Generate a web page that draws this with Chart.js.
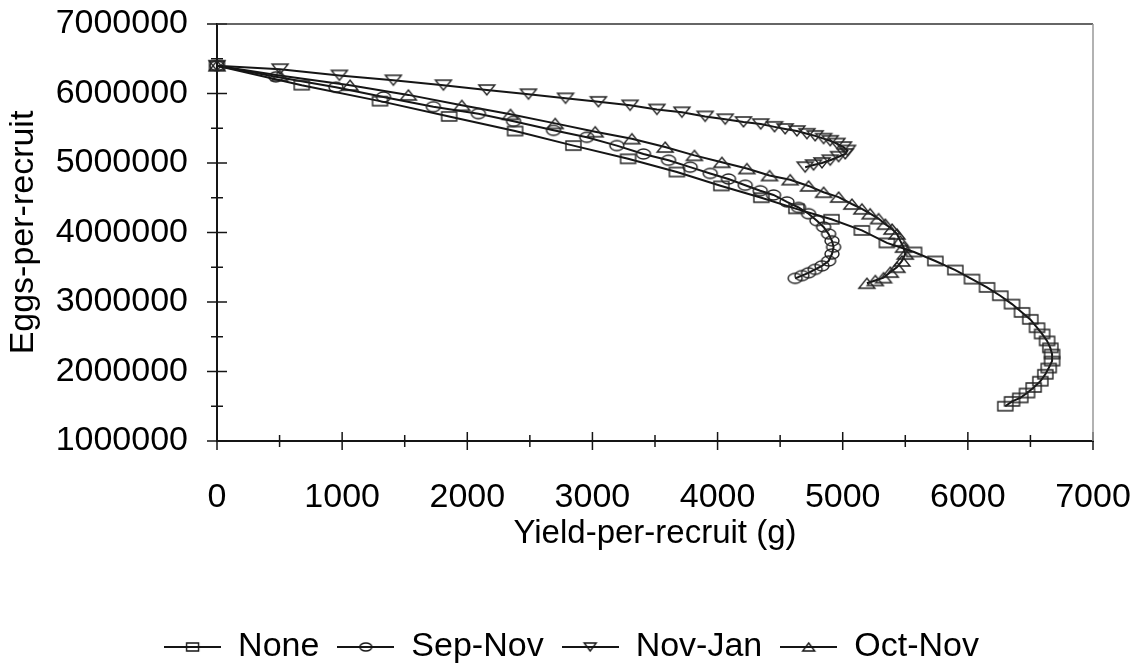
<!DOCTYPE html>
<html>
<head>
<meta charset="utf-8">
<script src="https://cdn.jsdelivr.net/npm/chart.js@4.4.1/dist/chart.umd.min.js"></script>
<style>
  html, body { margin: 0; padding: 0; background: #fff; }
  #wrap { width: 1138px; height: 668px; }
</style>
</head>
<body>
<div id="wrap"><canvas id="eprChart"></canvas></div>
<script>
// yield-per-recruit (g) and eggs-per-recruit, one pair per closed season
const noneYield = [0, 677, 1303, 1855, 2382, 2848, 3285, 3675, 4030, 4350, 4630, 4910, 5153, 5353, 5570, 5740, 5900, 6033, 6153, 6259,
  6353, 6433, 6499, 6553, 6593, 6633, 6659, 6673, 6673, 6646, 6619, 6579, 6526, 6473, 6419, 6353, 6299];
const noneEggs = [6400000, 6120000, 5890000, 5670000, 5460000, 5250000, 5060000, 4870000, 4670000, 4500000,
  4340000, 4190000, 4030000, 3850000, 3720000, 3590000, 3460000, 3330000, 3210000, 3090000,
  2970000, 2850000, 2750000, 2630000, 2540000, 2440000, 2340000, 2250000, 2150000, 2050000,
  1960000, 1860000, 1770000, 1690000, 1620000, 1570000, 1500000];

const sepNovYield = [0, 470, 950, 1330, 1729, 2089, 2370, 2689, 2955, 3195, 3408, 3608, 3781, 3941, 4087, 4221, 4341, 4447, 4554, 4647,
  4727, 4794, 4847, 4887, 4914, 4927, 4914, 4887, 4834, 4780, 4727, 4674, 4620];
const sepNovEggs = [6400000, 6240000, 6090000, 5950000, 5810000, 5710000, 5600000, 5470000, 5370000, 5250000,
  5130000, 5040000, 4940000, 4850000, 4770000, 4680000, 4600000, 4540000, 4440000, 4360000,
  4270000, 4170000, 4080000, 3980000, 3880000, 3790000, 3690000, 3590000, 3520000, 3470000,
  3420000, 3380000, 3340000];

const novJanYield = [0, 504, 978, 1409, 1809, 2156, 2489, 2785, 3048, 3301, 3515, 3715, 3901, 4061, 4207, 4345, 4455, 4540, 4634, 4714,
  4780, 4847, 4900, 4954, 5006, 5038, 5020, 4967, 4900, 4834, 4767, 4700];
const novJanEggs = [6400000, 6350000, 6260000, 6190000, 6120000, 6050000, 5990000, 5930000, 5880000, 5830000,
  5770000, 5730000, 5670000, 5630000, 5590000, 5560000, 5520000, 5490000, 5460000, 5420000,
  5390000, 5350000, 5320000, 5280000, 5230000, 5180000, 5130000, 5090000, 5040000, 5000000,
  4970000, 4940000];

const octNovYield = [0, 500, 1063, 1529, 1956, 2345, 2702, 3022, 3315, 3581, 3815, 4034, 4234, 4415, 4580, 4727, 4847, 4967, 5073, 5153,
  5219, 5286, 5340, 5394, 5433, 5460, 5486, 5500, 5473, 5433, 5380, 5326, 5260, 5193];
const octNovEggs = [6400000, 6260000, 6120000, 5980000, 5830000, 5700000, 5570000, 5450000, 5350000, 5230000,
  5110000, 5010000, 4920000, 4820000, 4760000, 4670000, 4580000, 4510000, 4410000, 4340000,
  4270000, 4200000, 4120000, 4050000, 3980000, 3880000, 3790000, 3690000, 3590000, 3500000,
  3430000, 3350000, 3310000, 3270000];

const seasonLabels = ['None', 'Sep-Nov', 'Nov-Jan', 'Oct-Nov'];
const yTicks = [1000000, 2000000, 3000000, 4000000, 5000000, 6000000, 7000000];
const xTicks = [0, 1000, 2000, 3000, 4000, 5000, 6000, 7000];

const FONT = "'Liberation Sans', Arial, sans-serif";
const INK = '#151515';

// hollow marker shapes, drawn once into small canvases
function drawShape(g, kind, cx, cy, w, h) {
  g.beginPath();
  if (kind === 'rect') {
    g.rect(cx - w / 2, cy - h / 2, w, h);
  } else if (kind === 'ellipse') {
    g.ellipse(cx, cy, w / 2, h / 2, 0, 0, Math.PI * 2);
  } else if (kind === 'down') {
    g.moveTo(cx - w / 2, cy - h / 2);
    g.lineTo(cx + w / 2, cy - h / 2);
    g.lineTo(cx, cy + h / 2);
    g.closePath();
  } else {
    g.moveTo(cx, cy - h / 2);
    g.lineTo(cx + w / 2, cy + h / 2);
    g.lineTo(cx - w / 2, cy + h / 2);
    g.closePath();
  }
  g.stroke();
}

function markerIcon(kind, w, h) {
  const c = document.createElement('canvas');
  c.width = w + 4; c.height = h + 4;
  const g = c.getContext('2d');
  g.strokeStyle = '#222';
  g.lineWidth = 1.4;
  drawShape(g, kind, c.width / 2, c.height / 2, w, h);
  return c;
}

function legendIcon(kind) {
  const c = document.createElement('canvas');
  c.width = 57; c.height = 14;
  const g = c.getContext('2d');
  g.strokeStyle = INK;
  g.lineWidth = 2;
  g.beginPath(); g.moveTo(0, 7); g.lineTo(57, 7); g.stroke();
  g.lineWidth = 1.4;
  drawShape(g, kind, 28.5, 7, 12, 8);
  return c;
}

const kinds = ['rect', 'ellipse', 'down', 'up'];
const markers = [markerIcon('rect', 15, 9), markerIcon('ellipse', 14, 10), markerIcon('down', 16, 10), markerIcon('up', 16, 10)];
const legendIcons = kinds.map(legendIcon);

const series = [
  [noneYield, noneEggs],
  [sepNovYield, sepNovEggs],
  [novJanYield, novJanEggs],
  [octNovYield, octNovEggs]
];

// crossing tick marks (major + minor) and the light frame on top/right
const axisMarks = {
  id: 'axisMarks',
  afterDraw(chart) {
    const {ctx, chartArea: a, scales: {x, y}} = chart;
    ctx.save();
    ctx.strokeStyle = INK;
    ctx.lineWidth = 1.5;
    for (let v = x.min; v <= x.max; v += 500) {
      const px = x.getPixelForValue(v);
      const len = v % 1000 === 0 ? 9 : 6;
      ctx.beginPath(); ctx.moveTo(px, a.bottom - len); ctx.lineTo(px, a.bottom + len); ctx.stroke();
    }
    for (let v = y.min; v <= y.max; v += 500000) {
      const py = y.getPixelForValue(v);
      const len = v % 1000000 === 0 ? 10 : 6;
      ctx.beginPath(); ctx.moveTo(a.left - len, py); ctx.lineTo(a.left + len, py); ctx.stroke();
    }
    ctx.strokeStyle = '#333';
    ctx.beginPath(); ctx.moveTo(a.left, a.top); ctx.lineTo(a.right, a.top); ctx.stroke();
    ctx.strokeStyle = '#999';
    ctx.beginPath(); ctx.moveTo(a.right, a.top); ctx.lineTo(a.right, a.bottom); ctx.stroke();
    ctx.restore();
  }
};

new Chart(document.getElementById('eprChart'), {
  type: 'scatter',
  data: {
    datasets: series.map(([xs, ys], i) => ({
      label: seasonLabels[i],
      data: xs.map((v, j) => ({x: v, y: ys[j]})),
      showLine: true,
      borderColor: INK,
      borderWidth: 2,
      backgroundColor: 'transparent',
      pointStyle: markers[i],
      pointRadius: 5,
      tension: 0,
      clip: false
    }))
  },
  options: {
    responsive: true,
    maintainAspectRatio: false,
    animation: false,
    // left padding nudges the centred legend to the right; y axis width compensates
    layout: { padding: { top: 24, right: 45, bottom: -6, left: 50 } },
    scales: {
      x: {
        type: 'linear',
        min: xTicks[0],
        max: xTicks[xTicks.length - 1],
        afterBuildTicks: scale => { scale.ticks = xTicks.map(v => ({value: v})); },
        afterFit: scale => {
          scale.height = 171;
          scale.paddingLeft = 0;
          scale.paddingRight = 0;
        },
        ticks: { color: '#000', font: { family: FONT, size: 34 }, padding: 36, maxRotation: 0, autoSkip: false, callback: v => String(v) },
        grid: { display: true, drawOnChartArea: false, drawTicks: false },
        border: { color: INK, width: 2 },
        title: { display: true, text: 'Yield-per-recruit (g)', color: '#000', font: { family: FONT, size: 33 }, padding: { top: 0, bottom: 58 } }
      },
      y: {
        type: 'linear',
        min: yTicks[0],
        max: yTicks[yTicks.length - 1],
        afterBuildTicks: scale => { scale.ticks = yTicks.map(v => ({value: v})); },
        afterFit: scale => {
          scale.width = 167;
          scale.paddingTop = 0;
          scale.paddingBottom = 0;
        },
        ticks: { color: '#000', font: { family: FONT, size: 34 }, padding: 29, callback: v => String(v) },
        grid: { display: true, drawOnChartArea: false, drawTicks: false },
        border: { color: INK, width: 2 },
        title: { display: true, text: 'Eggs-per-recruit', color: '#000', font: { family: FONT, size: 34 }, padding: { top: -47, bottom: 0 } }
      }
    },
    plugins: {
      tooltip: { enabled: false },
      legend: {
        position: 'bottom',
        labels: {
          usePointStyle: true,
          pointStyleWidth: 57,
          padding: 18,
          color: '#000',
          font: { family: FONT, size: 34 },
          generateLabels: chart => chart.data.datasets.map((ds, i) => ({
            text: ds.label,
            pointStyle: legendIcons[i],
            fillStyle: 'transparent',
            strokeStyle: 'transparent',
            lineWidth: 0,
            fontColor: '#000',
            hidden: false,
            datasetIndex: i
          }))
        }
      }
    }
  },
  plugins: [axisMarks]
});
</script>
</body>
</html>
